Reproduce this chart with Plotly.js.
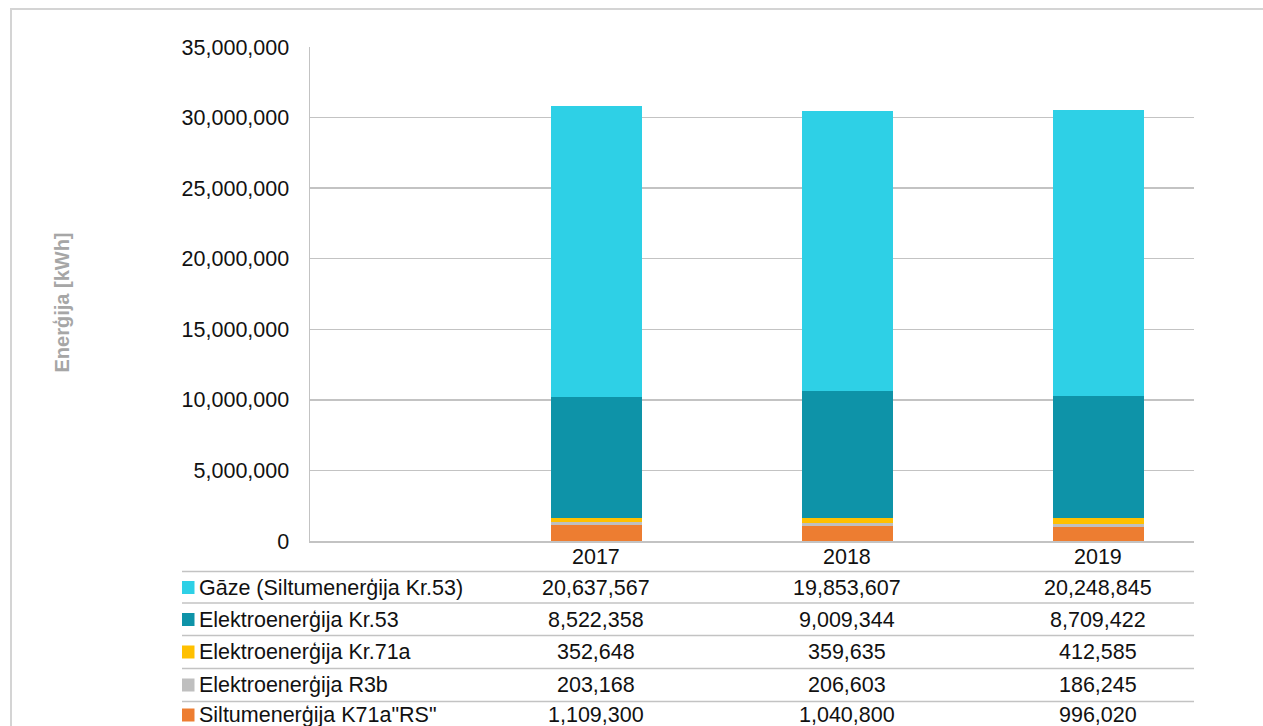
<!DOCTYPE html>
<html>
<head>
<meta charset="utf-8">
<script src="https://cdn.plot.ly/plotly-3.0.1.min.js"></script>
<style>
html,body{margin:0;padding:0;background:#fff;}
#chart{width:1263px;height:726px;}
</style>
</head>
<body>
<div id="chart"></div>
<script>
// ---- data ----
const years = ['2017', '2018', '2019'];
const seriesNames = [
  'Gāze (Siltumenerģija Kr.53)',
  'Elektroenerģija Kr.53',
  'Elektroenerģija Kr.71a',
  'Elektroenerģija R3b',
  'Siltumenerģija K71a"RS"'
];
const gaze = [20637567, 19853607, 20248845];
const elektroKr53 = [8522358, 9009344, 8709422];
const elektroKr71a = [352648, 359635, 412585];
const elektroR3b = [203168, 206603, 186245];
const siltumK71aRS = [1109300, 1040800, 996020];
const seriesColors = ['#2ED0E6', '#0E93A8', '#FFC000', '#BFBFBF', '#ED7D31'];
const yTickVals = [0, 5000000, 10000000, 15000000, 20000000, 25000000, 30000000, 35000000];
const yTitle = 'Enerģija [kWh]';

// table rows top-to-bottom
const tableValues = [gaze, elektroKr53, elektroKr71a, elektroR3b, siltumK71aRS];

// ---- layout geometry (pixels) ----
const W = 1263, H = 726;
const L = 310, R = 1194, T = 47, B = 541;
const pw = R - L, ph = B - T;
const px = X => (X - L) / pw;
const py = Y => (B - Y) / ph;

const font = 'Liberation Sans, Arial, sans-serif';
const fs = 21.5;
const textColor = '#111111';
const gridColor = '#C3C3C3';

// stacking bottom to top
const stackOrder = [4, 3, 2, 1, 0];
const traces = stackOrder.map(i => ({
  type: 'bar',
  name: seriesNames[i],
  x: years,
  y: tableValues[i],
  marker: {color: seriesColors[i], line: {width: 0}},
  width: 0.3625,
  hoverinfo: 'x+y+name'
}));

const annotations = [];
const shapes = [];

// outer frame
shapes.push({type: 'rect', xref: 'paper', yref: 'paper',
  x0: px(11), x1: px(1290), y0: py(9), y1: py(780),
  line: {color: '#D4D4D4', width: 2}, fillcolor: 'rgba(0,0,0,0)', layer: 'below'});

// y-axis title
annotations.push({xref: 'paper', yref: 'paper', x: px(61.5), y: py(303),
  text: '<b>' + yTitle + '</b>', showarrow: false, textangle: -90,
  xanchor: 'center', yanchor: 'middle',
  font: {family: font, size: 20, color: '#A6A6A6'}});

// year header row (category index positions)
years.forEach((yr, c) => {
  annotations.push({xref: 'x', yref: 'paper', x: c, y: py(556.5),
    text: yr, showarrow: false, xanchor: 'center', yanchor: 'middle',
    font: {family: font, size: fs, color: textColor}});
});

// table lines
const lineYs = [571.5, 603, 635.5, 668.5, 701.5];
lineYs.forEach(Y => {
  shapes.push({type: 'line', xref: 'paper', yref: 'paper',
    x0: px(182), x1: px(1194), y0: py(Y), y1: py(Y),
    line: {color: gridColor, width: 1.5}});
});

// table rows
const rowCenters = [587.5, 619.5, 652, 685, 715];
tableValues.forEach((vals, r) => {
  const cy = rowCenters[r];
  shapes.push({type: 'rect', xref: 'paper', yref: 'paper',
    x0: px(182), x1: px(194.5), y0: py(cy - 6.5), y1: py(cy + 6.5),
    fillcolor: seriesColors[r], line: {width: 0}});
  annotations.push({xref: 'paper', yref: 'paper', x: px(197), y: py(cy),
    text: seriesNames[r], showarrow: false, xanchor: 'left', yanchor: 'middle',
    font: {family: font, size: fs, color: textColor}});
  vals.forEach((v, c) => {
    annotations.push({xref: 'x', yref: 'paper', x: c, y: py(cy),
      text: v.toLocaleString('en-US'), showarrow: false,
      xanchor: 'center', yanchor: 'middle',
      font: {family: font, size: fs, color: textColor}});
  });
});

const layout = {
  width: W, height: H,
  margin: {l: L, r: W - R, t: T, b: H - B, pad: 0},
  paper_bgcolor: '#ffffff', plot_bgcolor: '#ffffff',
  barmode: 'stack',
  showlegend: false,
  font: {family: font, size: fs, color: textColor},
  xaxis: {
    type: 'category',
    range: [-1.141, 2.381],
    showticklabels: false, ticks: '',
    showgrid: false, zeroline: false,
    showline: true, linecolor: gridColor, linewidth: 1.5,
    fixedrange: true
  },
  yaxis: {
    range: [0, 35000000],
    tickvals: yTickVals,
    tickformat: ',d',
    ticks: 'outside', ticklen: 15, tickcolor: 'rgba(0,0,0,0)',
    tickfont: {family: font, size: fs, color: textColor},
    showgrid: true, gridcolor: gridColor, gridwidth: 1.5,
    zeroline: false,
    showline: true, linecolor: gridColor, linewidth: 1.5,
    fixedrange: true
  },
  annotations: annotations,
  shapes: shapes
};

Plotly.newPlot('chart', traces, layout, {displayModeBar: false, staticPlot: true});
</script>
</body>
</html>
